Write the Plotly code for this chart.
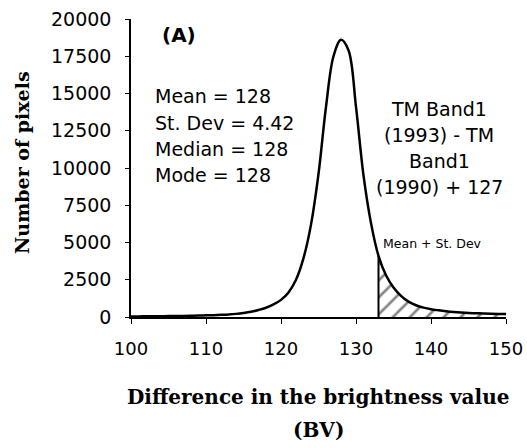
import plotly.graph_objects as go

# ---- data ----
bv = list(range(100, 151))
pixels = [40, 40, 45, 50, 55, 60, 65, 75, 85, 95,
          110, 125, 145, 170, 210, 270, 350, 470, 620, 840,
          1150, 1650, 2500, 3950, 6200, 9600, 14100, 17500, 18600, 17900,
          14100, 9500, 6300, 4100, 2800, 1980, 1420, 1030, 790, 630,
          520, 450, 390, 340, 300, 270, 250, 230, 215, 205,
          200]
threshold = 133  # Mean + St. Dev
y_ticks = [0, 2500, 5000, 7500, 10000, 12500, 15000, 17500, 20000]
x_ticks = [100, 110, 120, 130, 140, 150]
stats_lines = ["Mean = 128", "St. Dev = 4.42", "Median = 128", "Mode = 128"]
formula_lines = ["TM Band1", "(1993) - TM", "Band1", "(1990) + 127"]
panel_label = "(A)"
threshold_label = "Mean + St. Dev"
x_title_lines = ["Difference in the brightness value", "(BV)"]
y_title = "Number of pixels"

W, H = 527, 448
L, R, T, B = 131, 21, 19, 131
PW, PH = W - L - R, H - T - B


def xp(px):
    return (px - L) / PW


def yp(py):
    return (H - B - py) / PH


fig = go.Figure()

tail_x = [x for x in bv if x >= threshold]
tail_y = [v for x, v in zip(bv, pixels) if x >= threshold]

fig.add_trace(go.Scatter(
    x=tail_x, y=tail_y, mode="lines", line=dict(width=0, shape="spline"),
    fill="tozeroy", fillcolor="rgba(0,0,0,0)",
    fillpattern=dict(shape="/", fgcolor="black", bgcolor="white", size=12, solidity=0.22),
    hoverinfo="skip", showlegend=False))

fig.add_trace(go.Scatter(
    x=[threshold, threshold], y=[0, tail_y[0]], mode="lines",
    line=dict(color="black", width=2), showlegend=False))

fig.add_trace(go.Scatter(
    x=bv, y=pixels, mode="lines",
    line=dict(color="black", width=2.5, shape="spline"), showlegend=False))

font_sans = "DejaVu Sans"
font_serif = "DejaVu Serif"

fig.add_annotation(x=xp(160), y=yp(35), xref="paper", yref="paper", text="<b>%s</b>" % panel_label,
                   showarrow=False, xanchor="left", yanchor="middle",
                   font=dict(family=font_sans, size=20, color="black"))

for i, t in enumerate(stats_lines):
    fig.add_annotation(x=xp(153), y=yp(96 + 26.5 * i), xref="paper", yref="paper", text=t,
                       showarrow=False, xanchor="left", yanchor="middle",
                       font=dict(family=font_sans, size=19, color="black"))

for i, t in enumerate(formula_lines):
    fig.add_annotation(x=xp(439), y=yp(108.5 + 26.2 * i), xref="paper", yref="paper", text=t,
                       showarrow=False, xanchor="center", yanchor="middle",
                       font=dict(family=font_sans, size=19, color="black"))

fig.add_annotation(x=xp(381), y=yp(243), xref="paper", yref="paper", text=threshold_label,
                   showarrow=False, xanchor="left", yanchor="middle",
                   font=dict(family=font_sans, size=12.5, color="black"))

for i, t in enumerate(x_title_lines):
    fig.add_annotation(x=xp(318), y=yp(397 + 33 * i), xref="paper", yref="paper", text="<b>%s</b>" % t,
                       showarrow=False, xanchor="center", yanchor="middle",
                       font=dict(family=font_serif, size=20, color="black"))

fig.add_annotation(x=xp(22), y=yp(163), xref="paper", yref="paper", text="<b>%s</b>" % y_title,
                   showarrow=False, xanchor="center", yanchor="middle", textangle=-90,
                   font=dict(family=font_serif, size=19, color="black"))

fig.update_layout(
    width=W, height=H,
    margin=dict(l=L, r=R, t=T, b=B, autoexpand=False),
    plot_bgcolor="white", paper_bgcolor="white",
    showlegend=False,
    xaxis=dict(range=[100, 150], tickvals=x_ticks, showgrid=False, zeroline=False,
               showline=True, linecolor="black", linewidth=1.5,
               ticks="outside", ticklen=5, tickcolor="black", tickwidth=1,
               ticklabelstandoff=10,
               tickfont=dict(family=font_sans, size=18, color="black")),
    yaxis=dict(range=[0, 20000], tickvals=y_ticks, tickformat="d", showgrid=False, zeroline=False,
               showline=True, linecolor="black", linewidth=1.5,
               ticks="outside", ticklen=4, tickcolor="black", tickwidth=1,
               ticklabelstandoff=10,
               tickfont=dict(family=font_sans, size=19, color="black")),
)

fig.write_html("out.html")
